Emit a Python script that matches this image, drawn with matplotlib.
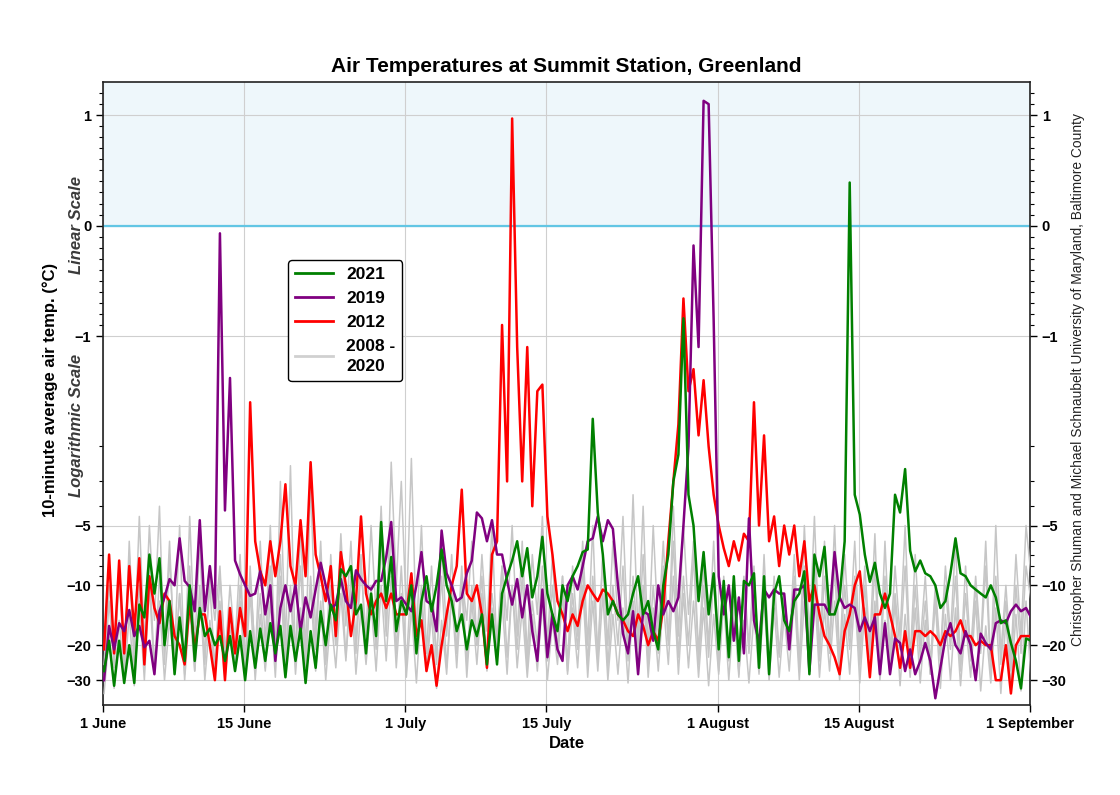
import numpy as np
import matplotlib
matplotlib.use("Agg")
import matplotlib.pyplot as plt
from matplotlib.ticker import FixedLocator, FuncFormatter

plt.rcParams['font.family'] = ['Liberation Sans', 'DejaVu Sans']

# x axis: days since 1 June, two readings per day (night, afternoon)
TICK_DAYS = [0, 14, 30, 44, 61, 75, 92]
TICK_LABELS = ["1 June", "15 June", "1 July", "15 July", "1 August", "15 August", "1 September"]

# 2021 (green)
T2021 = [
    -27, -19, -32, -19, -31, -20, -31, -12.5, -14.5, -7,        # 1-5 Jun
    -11, -7.3, -20, -12, -28, -14.5, -24, -10, -24, -13,        # 6-10
    -18, -16.5, -20, -18, -24, -18, -27, -18, -30, -17,         # 11-15
    -26, -16.5, -24, -15.5, -22, -16, -29, -16, -24, -16.5,     # 16-20
    -31, -17, -26, -13.5, -20, -12.5, -15, -8.3, -9, -8,        # 21-25
    -14, -12.5, -22, -11, -18, -4.8, -12, -7.2, -17, -12,       # 26-30
    -14, -10, -22, -12, -9, -13.5, -10, -6.6, -10, -12,         # 1-5 Jul
    -17, -14, -21, -15, -18, -14, -25, -14, -25, -11,           # 6-10
    -9, -7.5, -6, -9, -6.5, -11.5, -9, -5.7, -11, -14,          # 11-15
    -17, -10, -12, -9, -8, -6.8, -6.6, -1.75, -4.3, -7,         # 16-20
    -14, -12, -14, -15, -14, -11, -9, -14, -12, -17,            # 21-25
    -21, -10, -7, -3, -2.2, -0.84, -3.5, -5, -12, -6.8,         # 26-30
    -14, -8.7, -21, -9.5, -23, -9, -24, -9.5, -10, -8.7,        # 31 Jul - 4 Aug
    -26, -9, -28, -11, -9, -15, -17, -12, -11, -8.5,            # 5-9
    -28, -7, -9, -6.4, -14, -14, -11.5, -6, 0.39, -3.5,         # 10-14
    -4.4, -7, -9.6, -7.7, -11, -13, -11, -3.5, -4.3, -2.6,      # 15-19
    -6.7, -8.5, -7.5, -8.7, -9, -10, -13, -12, -8.7, -5.8,      # 20-24
    -8.7, -9, -10, -10.5, -11, -11.5, -10, -11.5, -15.5, -15,   # 25-29
    -19.5, -24, -33, -18.5, -19,                                # 30 Aug - 1 Sep
]

# 2019 (purple)
T2019 = [
    -30, -16, -21, -15.5, -17, -13.3, -18, -16, -20.5, -19,
    -28, -13.5, -11.5, -9.3, -10, -5.8, -9.5, -10.2, -13.5, -4.7,
    -13.5, -8, -13, -0.07, -4.2, -1.38, -7.5, -8.8, -10, -11.3,
    -11, -8.5, -14, -10, -24, -13, -10, -13.5, -10, -17,
    -11.5, -14.5, -10.5, -7.7, -10, -13, -12.5, -9.3, -12, -13,
    -8.4, -9.3, -10, -10.5, -9.5, -9.5, -7.2, -4.8, -12, -11.5,
    -12.5, -13.5, -10, -6.8, -12, -12.5, -17, -5.3, -8.7, -10,
    -12, -11.5, -8.7, -7.5, -4.3, -4.6, -6, -4.7, -7, -7,
    -9.5, -12.5, -9.3, -14.5, -10, -17, -24, -10.5, -23, -14,
    -21, -24, -10, -9, -10.5, -8, -6, -5.8, -4.5, -6,
    -4.7, -5.2, -10, -17.5, -22, -13.5, -28, -13.5, -14, -19,
    -10, -14, -12, -13.5, -11.5, -5, -2, -0.18, -1.1, 1.13,
    1.1, -0.86, -9, -14, -10, -19, -11.5, -22, -4.6, -15,
    -19.5, -10.5, -11.5, -10.5, -11, -11, -21, -10.5, -10.5, -10,
    -27, -12.5, -12.5, -12.5, -14, -6.8, -11.5, -13, -12.5, -13,
    -17, -14.5, -17, -14.5, -28, -15.5, -28, -18.5, -19.5, -27,
    -21, -28, -24, -19.5, -24, -37, -26, -18.5, -15.5, -20,
    -22, -17, -20, -30, -17.5, -19.5, -21, -15.5, -15, -15.5,
    -13.5, -12.5, -13.5, -13, -14.5,
]

# 2012 (red)
T2012 = [
    -21, -7, -22, -7.5, -22, -8, -17, -7.3, -25, -9,
    -13, -15.5, -11, -12, -18, -20, -25, -12, -21, -14,
    -14, -20, -30, -13.5, -30, -13, -22, -13, -18, -1.6,
    -6, -8.5, -10, -6, -9, -6, -3.1, -8, -10, -4.7,
    -9, -2.4, -7, -9, -12, -8, -18, -6.8, -10, -18,
    -12, -4.5, -11, -14, -12, -11, -13, -11, -14, -14,
    -14, -8.7, -18, -15, -27, -20, -32, -20, -14, -10,
    -8, -3.3, -11, -12, -10, -14, -26, -7, -6, -0.9,
    -3, 0.97, -1.1, -3, -1.1, -4, -1.5, -1.44, -4.5, -7,
    -12, -14, -17, -14, -16, -12, -10, -11, -12, -10.5,
    -11, -12, -14, -15, -17, -18, -14, -16, -20, -17,
    -19, -13, -6, -3, -1.8, -0.66, -1.5, -1.3, -1.9, -1.4,
    -2, -3.5, -5, -6.5, -8, -6, -7.5, -5.5, -6, -1.6,
    -5, -1.9, -6, -4.5, -8, -5, -7, -5, -9, -6,
    -12, -10, -14, -18, -20, -23, -28, -17, -14, -10,
    -8.5, -15, -29, -14, -14, -11, -14, -18, -26, -17,
    -26, -17, -17, -18, -17, -18, -20, -17, -18, -17,
    -15, -18, -18, -20, -19, -20, -20, -30, -30, -20,
    -35, -20, -18, -18, -18,
]

# 2008-2020, three of the years in the grey band
T_GREY_A = [
    -25, -10, -20, -8, -28, -6, -22, -4.5, -20, -5,
    -15, -4, -25, -7, -22, -5, -28, -4.5, -20, -6,
    -25, -9, -15, -8, -24, -10, -20, -7, -27, -8,
    -24, -6, -20, -5, -25, -3, -20, -2.5, -25, -5,
    -22, -3, -18, -6, -25, -7, -20, -5.5, -16, -6,
    -22, -8, -18, -5, -14, -4, -18, -2.4, -10, -3,
    -14, -2.3, -18, -5, -22, -8, -25, -6, -18, -7,
    -22, -9, -15, -6, -20, -7, -17, -5, -22, -8,
    -15, -5, -18, -6, -23, -7, -14, -4.5, -20, -7,
    -22, -9, -25, -8, -18, -6, -20, -5, -24, -7,
    -20, -6, -15, -4.5, -20, -3.5, -18, -4, -22, -5,
    -17, -6, -20, -4, -18, -5, -14, -6, -22, -8,
    -20, -6, -25, -9, -22, -10, -28, -9, -20, -8,
    -26, -7, -24, -9, -22, -11, -20, -7, -25, -5,
    -18, -4.5, -22, -6, -20, -5, -24, -7, -18, -6,
    -22, -8, -20, -5.5, -25, -6, -22, -8, -18, -5,
    -24, -7, -20, -9, -25, -10, -22, -8, -18, -6,
    -25, -8, -22, -9, -20, -6, -26, -5, -22, -10,
    -24, -7, -18, -5, -9,
]

T_GREY_B = [
    -35, -18, -33, -15, -30, -14, -32, -12, -30, -10,
    -28, -12, -30, -15, -26, -11, -30, -13, -27, -10,
    -30, -15, -28, -12, -29, -16, -25, -12, -28, -11,
    -30, -14, -27, -12, -29, -9, -26, -11, -28, -13,
    -25, -10, -27, -12, -30, -14, -26, -11, -24, -10,
    -28, -13, -25, -12, -27, -10, -24, -9, -26, -11,
    -29, -13, -31, -12, -27, -14, -33, -15, -28, -11,
    -26, -10, -29, -12, -25, -11, -27, -13, -24, -12,
    -28, -10, -26, -13, -29, -14, -27, -12, -30, -15,
    -25, -11, -28, -13, -26, -10, -29, -12, -27, -11,
    -30, -14, -28, -13, -31, -12, -26, -10, -29, -13,
    -27, -12, -25, -9, -28, -11, -26, -12, -29, -13,
    -32, -14, -28, -12, -30, -13, -27, -15, -31, -14,
    -28, -12, -30, -13, -29, -14, -27, -11, -30, -12,
    -26, -10, -29, -13, -27, -12, -30, -14, -28, -11,
    -31, -13, -27, -12, -30, -15, -28, -12, -32, -14,
    -29, -13, -31, -15, -28, -12, -33, -14, -30, -13,
    -32, -15, -29, -12, -34, -16, -31, -13, -35, -15,
    -32, -14, -34, -12, -30,
]

T_GREY_C = [
    -30, -12, -26, -9, -24, -7, -27, -10, -22, -8,
    -26, -9, -20, -6, -25, -11, -23, -8, -27, -12,
    -22, -10, -26, -9, -21, -13, -27, -10, -24, -9,
    -22, -11, -26, -8, -20, -7, -24, -10, -22, -8,
    -26, -9, -21, -7, -24, -10, -20, -8, -23, -9,
    -19, -7, -24, -10, -21, -6, -17, -5, -22, -8,
    -25, -9, -20, -10, -27, -12, -23, -9, -26, -11,
    -21, -8, -25, -10, -20, -9, -24, -11, -19, -8,
    -23, -10, -21, -9, -26, -12, -20, -8, -24, -10,
    -22, -9, -27, -11, -21, -8, -25, -9, -22, -7,
    -26, -10, -20, -8, -24, -9, -21, -7, -25, -10,
    -22, -8, -19, -6, -23, -9, -20, -7, -25, -10,
    -23, -9, -27, -11, -24, -12, -29, -10, -22, -9,
    -27, -11, -25, -10, -23, -12, -21, -9, -26, -8,
    -20, -7, -24, -9, -22, -8, -26, -10, -21, -9,
    -25, -10, -23, -8, -27, -9, -24, -11, -21, -8,
    -26, -10, -23, -12, -28, -11, -24, -10, -21, -9,
    -27, -11, -24, -10, -22, -8, -28, -9, -25, -12,
    -27, -10, -22, -8, -12,
]

# y axis: linear above -2, log below
K = 1.8


def forward(y):
    y = np.asarray(y, dtype=float)
    return np.where(y >= -2, y, -2 - K * np.log10(np.maximum(-y, 2) / 2))


def inverse(u):
    u = np.asarray(u, dtype=float)
    return np.where(u >= -2, u, -2 * 10 ** ((-2 - np.minimum(u, -2)) / K))


def day_axis(values):
    return np.arange(len(values)) * 0.5 + 0.1


fig = plt.figure(figsize=(11.2, 7.95), dpi=100)
ax = fig.add_axes([0.092, 0.1132, 0.8277, 0.7836])
ax.set_yscale('function', functions=(forward, inverse))
ax.set_xlim(0, 92)
ax.set_ylim(-40, 1.3)

ax.axhspan(0, 1.3, color='#eef7fb', zorder=0)
ax.grid(True, color='#cfcfcf', linewidth=0.8, zorder=1)
ax.axhline(0, color='#62c6e4', linewidth=1.6, zorder=2)

grey = '#c6c6c6'
for series in (T_GREY_A, T_GREY_B, T_GREY_C):
    ax.plot(day_axis(series), series, color=grey, lw=1.1, zorder=3)
ax.plot(day_axis(T2012), T2012, color='#ff0000', lw=1.8, zorder=4)
ax.plot(day_axis(T2019), T2019, color='#800080', lw=1.8, zorder=5)
ax.plot(day_axis(T2021), T2021, color='#008000', lw=1.8, zorder=6)

# legend handles in the original order
h21, = ax.plot([], [], color='#008000', lw=2, label='2021')
h19, = ax.plot([], [], color='#800080', lw=2, label='2019')
h12, = ax.plot([], [], color='#ff0000', lw=2, label='2012')
hgr, = ax.plot([], [], color='#d0d0d0', lw=2, label='2008 -\n2020')
leg = ax.legend(handles=[h21, h19, h12, hgr], loc='upper left',
                bbox_to_anchor=(0.1996, 0.714), borderaxespad=0,
                prop={'weight': 'bold', 'size': 12.5},
                frameon=True, fancybox=True, edgecolor='black', handlelength=2.2,
                borderpad=0.4, labelspacing=0.5, handletextpad=0.75)
for txt in leg.get_texts():
    txt.set_linespacing(1.45)
leg.get_frame().set_linewidth(1.0)
leg.get_frame().set_alpha(1)

major = [1, 0, -1, -5, -10, -20, -30]
minor = [1.2, 1.1, 0.9, 0.8, 0.7, 0.6, 0.5, 0.4, 0.3, 0.2, 0.1,
         -0.1, -0.2, -0.3, -0.4, -0.5, -0.6, -0.7, -0.8, -0.9,
         -2, -3, -4, -6, -7, -8, -9]
ax.yaxis.set_major_locator(FixedLocator(major))
ax.yaxis.set_minor_locator(FixedLocator(minor))
ax.yaxis.set_major_formatter(FuncFormatter(lambda v, p: f"{v:g}".replace('-', '\u2212')))
ax.yaxis.set_minor_formatter(FuncFormatter(lambda v, p: ''))
ax.set_xticks(TICK_DAYS)
ax.set_xticklabels(TICK_LABELS)

ax.tick_params(axis='y', which='both', left=True, right=True, labelleft=True, labelright=True)
ax.tick_params(axis='both', which='major', length=5, width=1, labelsize=10.5)
ax.tick_params(axis='y', which='minor', length=3, width=0.8)
for lab in ax.get_xticklabels():
    lab.set_fontweight('bold')
for t in ax.yaxis.get_major_ticks():
    t.label1.set_fontweight('bold')
    t.label2.set_fontweight('bold')
for sp in ax.spines.values():
    sp.set_linewidth(1.2)
    sp.set_color('#222222')

ax.set_title("Air Temperatures at Summit Station, Greenland", fontsize=15, fontweight='bold', pad=7)
ax.set_xlabel("Date", fontsize=12, fontweight='bold', labelpad=4)

fig.text(0.045, 0.509, "10-minute average air temp. (°C)", rotation=90, ha='center', va='center',
         fontsize=12, fontweight='bold')
fig.text(0.068, 0.717, "Linear Scale", rotation=90, ha='center', va='center',
         fontsize=12, fontweight='bold', style='italic', color='#3a3a3a')
fig.text(0.068, 0.465, "Logarithmic Scale", rotation=90, ha='center', va='center',
         fontsize=12, fontweight='bold', style='italic', color='#3a3a3a')
fig.text(0.9625, 0.523, "Christopher Shuman and Michael Schnaubelt University of Maryland, Baltimore County",
         rotation=90, ha='center', va='center', fontsize=9.9, color='#222222')

fig.savefig("out.png", dpi=100)
